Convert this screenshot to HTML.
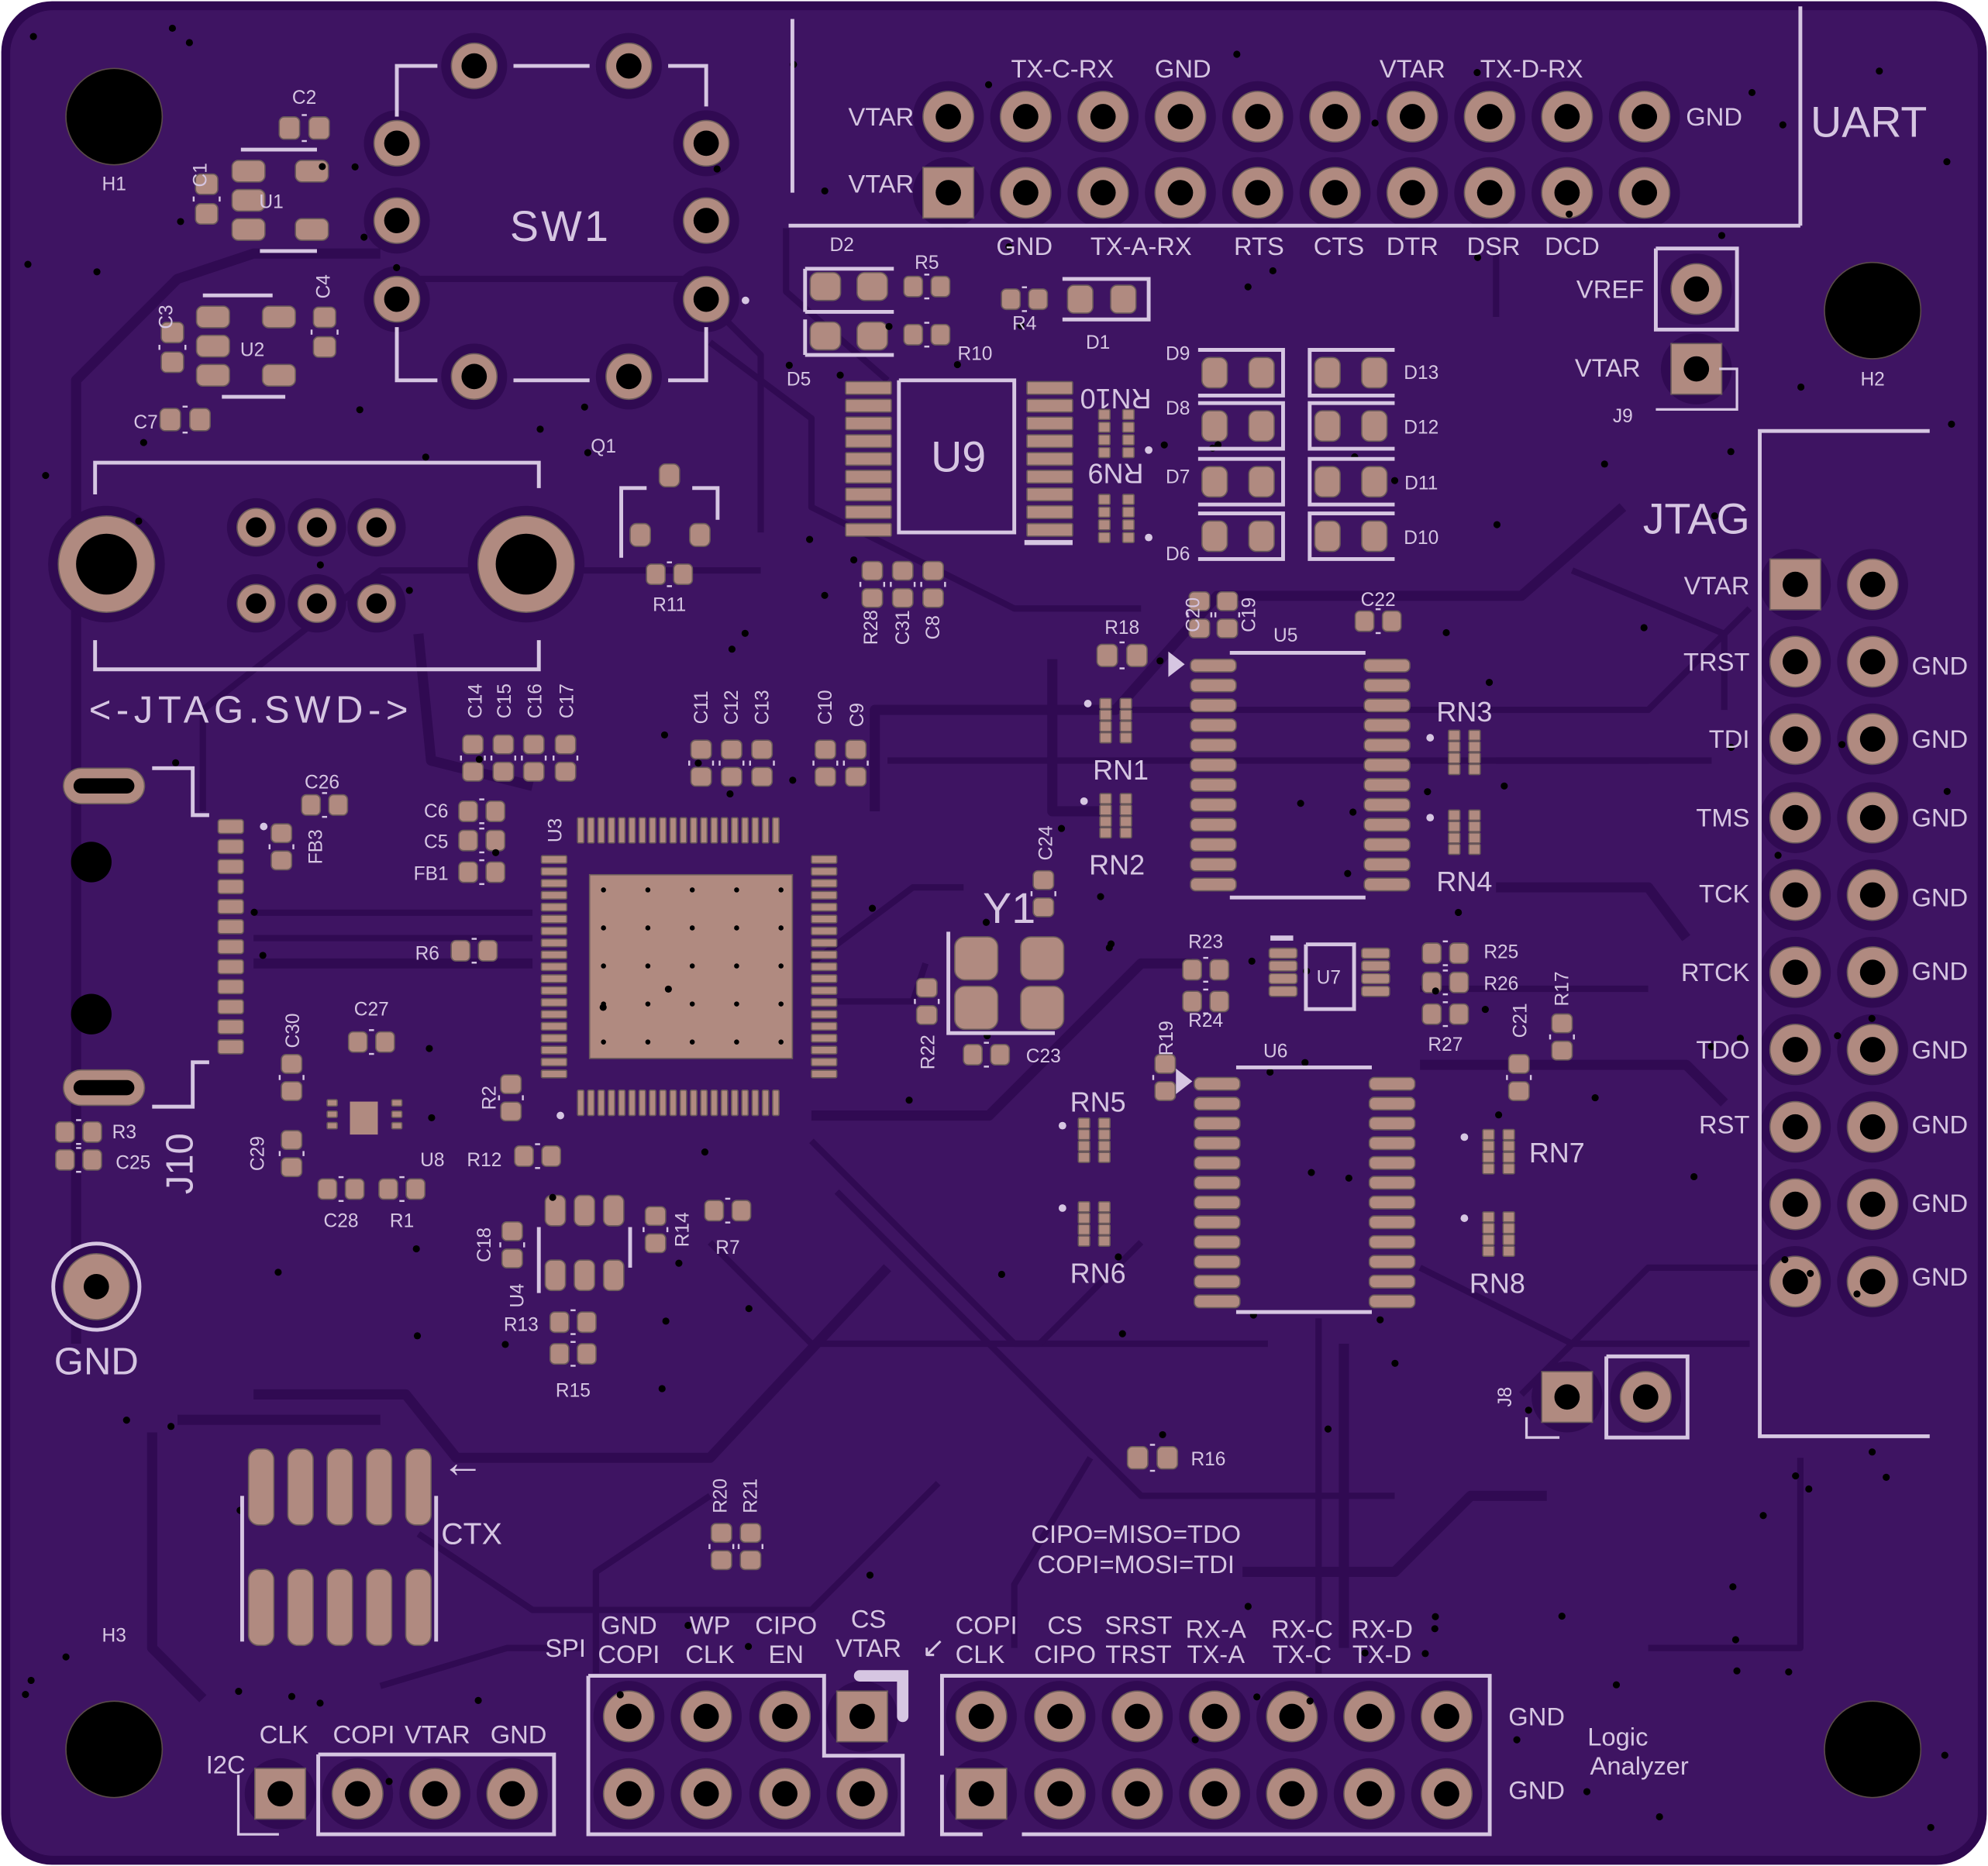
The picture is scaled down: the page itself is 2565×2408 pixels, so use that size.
<!DOCTYPE html>
<html><head><meta charset="utf-8"><style>
html,body{margin:0;padding:0;background:#fff;}
svg{display:block;}
text{font-family:"Liberation Sans",sans-serif;fill:#d6c6e2;}
</style></head><body>
<svg id="s" width="2565" height="2408" viewBox="0 0 1568 1472" xmlns="http://www.w3.org/2000/svg">
<rect x="0" y="0" width="1568" height="1472" fill="#ffffff"/>
<rect x="1" y="1" width="1566" height="1470" rx="40" fill="#2e0850"/>
<rect x="8" y="8" width="1552" height="1456" rx="34" fill="#3e1462"/>
<g id="traces" fill="none" stroke="#300a52" stroke-width="6" stroke-linejoin="round"></g>
<g id="pads"></g>
<g id="silk" fill="none" stroke="#d6c6e2" stroke-width="3"></g>
<g id="txt">
<g font-size="15">
<text x="90" y="150" text-anchor="middle">H1</text>
<text x="1477" y="304" text-anchor="middle">H2</text>
<text x="90" y="1295" text-anchor="middle">H3</text>
<text x="240" y="82" text-anchor="middle">C2</text>
<text x="214" y="164" text-anchor="middle">U1</text>
<text x="199" y="281" text-anchor="middle">U2</text>
<text x="115" y="338" text-anchor="middle">C7</text>
<text x="476" y="357" text-anchor="middle">Q1</text>
<text x="528" y="482" text-anchor="middle">R11</text>
<text x="664" y="198" text-anchor="middle">D2</text>
<text x="731" y="212" text-anchor="middle">R5</text>
<text x="769" y="284" text-anchor="middle">R10</text>
<text x="808" y="260" text-anchor="middle">R4</text>
<text x="866" y="275" text-anchor="middle">D1</text>
<text x="630" y="304" text-anchor="middle">D5</text>
<text x="929" y="284" text-anchor="middle">D9</text>
<text x="929" y="327" text-anchor="middle">D8</text>
<text x="929" y="381" text-anchor="middle">D7</text>
<text x="929" y="442" text-anchor="middle">D6</text>
<text x="1121" y="299" text-anchor="middle">D13</text>
<text x="1121" y="342" text-anchor="middle">D12</text>
<text x="1121" y="386" text-anchor="middle">D11</text>
<text x="1121" y="429" text-anchor="middle">D10</text>
<text x="885" y="500" text-anchor="middle">R18</text>
<text x="1014" y="506" text-anchor="middle">U5</text>
<text x="1087" y="478" text-anchor="middle">C22</text>
<text x="254" y="622" text-anchor="middle">C26</text>
<text x="344" y="645" text-anchor="middle">C6</text>
<text x="344" y="669" text-anchor="middle">C5</text>
<text x="340" y="694" text-anchor="middle">FB1</text>
<text x="337" y="757" text-anchor="middle">R6</text>
<text x="293" y="801" text-anchor="middle">C27</text>
<text x="98" y="898" text-anchor="middle">R3</text>
<text x="105" y="922" text-anchor="middle">C25</text>
<text x="341" y="920" text-anchor="middle">U8</text>
<text x="382" y="920" text-anchor="middle">R12</text>
<text x="269" y="968" text-anchor="middle">C28</text>
<text x="317" y="968" text-anchor="middle">R1</text>
<text x="574" y="989" text-anchor="middle">R7</text>
<text x="411" y="1050" text-anchor="middle">R13</text>
<text x="452" y="1102" text-anchor="middle">R15</text>
<text x="951" y="748" text-anchor="middle">R23</text>
<text x="951" y="810" text-anchor="middle">R24</text>
<text x="1184" y="756" text-anchor="middle">R25</text>
<text x="1184" y="781" text-anchor="middle">R26</text>
<text x="1140" y="829" text-anchor="middle">R27</text>
<text x="1048" y="776" text-anchor="middle">U7</text>
<text x="1006" y="834" text-anchor="middle">U6</text>
<text x="823" y="838" text-anchor="middle">C23</text>
<text x="953" y="1156" text-anchor="middle">R16</text>
<text transform="translate(163,138) rotate(-90)" text-anchor="middle">C1</text>
<text transform="translate(136,250) rotate(-90)" text-anchor="middle">C3</text>
<text transform="translate(260,226) rotate(-90)" text-anchor="middle">C4</text>
<text transform="translate(692,495) rotate(-90)" text-anchor="middle">R28</text>
<text transform="translate(717,495) rotate(-90)" text-anchor="middle">C31</text>
<text transform="translate(741,495) rotate(-90)" text-anchor="middle">C8</text>
<text transform="translate(946,485) rotate(-90)" text-anchor="middle">C20</text>
<text transform="translate(990,485) rotate(-90)" text-anchor="middle">C19</text>
<text transform="translate(380,553) rotate(-90)" text-anchor="middle">C14</text>
<text transform="translate(403,553) rotate(-90)" text-anchor="middle">C15</text>
<text transform="translate(427,553) rotate(-90)" text-anchor="middle">C16</text>
<text transform="translate(452,553) rotate(-90)" text-anchor="middle">C17</text>
<text transform="translate(558,558) rotate(-90)" text-anchor="middle">C11</text>
<text transform="translate(582,558) rotate(-90)" text-anchor="middle">C12</text>
<text transform="translate(606,558) rotate(-90)" text-anchor="middle">C13</text>
<text transform="translate(656,558) rotate(-90)" text-anchor="middle">C10</text>
<text transform="translate(681,564) rotate(-90)" text-anchor="middle">C9</text>
<text transform="translate(254,668) rotate(-90)" text-anchor="middle">FB3</text>
<text transform="translate(443,655) rotate(-90)" text-anchor="middle">U3</text>
<text transform="translate(830,665) rotate(-90)" text-anchor="middle">C24</text>
<text transform="translate(236,813) rotate(-90)" text-anchor="middle">C30</text>
<text transform="translate(208,910) rotate(-90)" text-anchor="middle">C29</text>
<text transform="translate(391,866) rotate(-90)" text-anchor="middle">R2</text>
<text transform="translate(737,830) rotate(-90)" text-anchor="middle">R22</text>
<text transform="translate(925,819) rotate(-90)" text-anchor="middle">R19</text>
<text transform="translate(1204,805) rotate(-90)" text-anchor="middle">C21</text>
<text transform="translate(1237,780) rotate(-90)" text-anchor="middle">R17</text>
<text transform="translate(387,982) rotate(-90)" text-anchor="middle">C18</text>
<text transform="translate(543,970) rotate(-90)" text-anchor="middle">R14</text>
<text transform="translate(413,1022) rotate(-90)" text-anchor="middle">U4</text>
<text transform="translate(573,1180) rotate(-90)" text-anchor="middle">R20</text>
<text transform="translate(597,1180) rotate(-90)" text-anchor="middle">R21</text>
<text transform="translate(1192,1102) rotate(-90)" text-anchor="middle">J8</text>
<text x="1280" y="333" text-anchor="middle">J9</text>
<text transform="translate(880,307) rotate(180)" text-anchor="middle" font-size="22">RN10</text>
<text transform="translate(880,366) rotate(180)" text-anchor="middle" font-size="22">RN9</text>
</g>
<g font-size="22">
<text x="884" y="615" text-anchor="middle">RN1</text>
<text x="881" y="690" text-anchor="middle">RN2</text>
<text x="1155" y="569" text-anchor="middle">RN3</text>
<text x="1155" y="703" text-anchor="middle">RN4</text>
<text x="866" y="877" text-anchor="middle">RN5</text>
<text x="866" y="1012" text-anchor="middle">RN6</text>
<text x="1228" y="917" text-anchor="middle">RN7</text>
<text x="1181" y="1020" text-anchor="middle">RN8</text>
</g>
<g font-size="20">
<text x="695" y="99" text-anchor="middle">VTAR</text>
<text x="695" y="152" text-anchor="middle">VTAR</text>
<text x="838" y="61" text-anchor="middle">TX-C-RX</text>
<text x="933" y="61" text-anchor="middle">GND</text>
<text x="1114" y="61" text-anchor="middle">VTAR</text>
<text x="1208" y="61" text-anchor="middle">TX-D-RX</text>
<text x="1352" y="99" text-anchor="middle">GND</text>
<text x="808" y="201" text-anchor="middle">GND</text>
<text x="900" y="201" text-anchor="middle">TX-A-RX</text>
<text x="993" y="201" text-anchor="middle">RTS</text>
<text x="1056" y="201" text-anchor="middle">CTS</text>
<text x="1114" y="201" text-anchor="middle">DTR</text>
<text x="1178" y="201" text-anchor="middle">DSR</text>
<text x="1240" y="201" text-anchor="middle">DCD</text>
<text x="1270" y="235" text-anchor="middle">VREF</text>
<text x="1268" y="297" text-anchor="middle">VTAR</text>
<g text-anchor="end">
<text x="1380" y="469">VTAR</text><text x="1380" y="529">TRST</text><text x="1380" y="590">TDI</text>
<text x="1380" y="652">TMS</text><text x="1380" y="712">TCK</text><text x="1380" y="774">RTCK</text>
<text x="1380" y="835">TDO</text><text x="1380" y="894">RST</text>
</g>
<g text-anchor="middle">
<text x="1530" y="532">GND</text><text x="1530" y="590">GND</text><text x="1530" y="652">GND</text>
<text x="1530" y="715">GND</text><text x="1530" y="773">GND</text><text x="1530" y="835">GND</text>
<text x="1530" y="894">GND</text><text x="1530" y="956">GND</text><text x="1530" y="1014">GND</text>
</g>
<text x="896" y="1217" text-anchor="middle">CIPO=MISO=TDO</text>
<text x="896" y="1241" text-anchor="middle">COPI=MOSI=TDI</text>
<g text-anchor="middle">
<text x="496" y="1289">GND</text><text x="496" y="1312">COPI</text>
<text x="560" y="1289">WP</text><text x="560" y="1312">CLK</text>
<text x="620" y="1289">CIPO</text><text x="620" y="1312">EN</text>
<text x="685" y="1284">CS</text><text x="685" y="1307">VTAR</text>
<text x="446" y="1307">SPI</text>
<text x="778" y="1289">COPI</text><text x="773" y="1312">CLK</text>
<text x="840" y="1289">CS</text><text x="840" y="1312">CIPO</text>
<text x="898" y="1289">SRST</text><text x="898" y="1312">TRST</text>
<text x="959" y="1292">RX-A</text><text x="959" y="1312">TX-A</text>
<text x="1027" y="1292">RX-C</text><text x="1027" y="1312">TX-C</text>
<text x="1090" y="1292">RX-D</text><text x="1090" y="1312">TX-D</text>
<text x="1212" y="1361">GND</text><text x="1212" y="1419">GND</text>
<text x="1276" y="1377">Logic</text><text x="1293" y="1400">Analyzer</text>
<text x="224" y="1375">CLK</text><text x="287" y="1375">COPI</text>
<text x="345" y="1375">VTAR</text><text x="409" y="1375">GND</text>
<text x="178" y="1399">I2C</text>
</g>
<text x="348" y="1218" font-size="24">CTX</text>
<text x="348" y="1165" font-size="34">←</text>
<text x="727" y="1307" font-size="22">↙</text>
</g>
<g font-size="34">
<text x="442" y="190" text-anchor="middle" letter-spacing="2">SW1</text>
<text x="1474" y="108" text-anchor="middle">UART</text>
<text x="1338" y="421" text-anchor="middle">JTAG</text>
<text x="198" y="570" text-anchor="middle" font-size="30" letter-spacing="4">&lt;-JTAG.SWD-&gt;</text>
<text x="756" y="372" text-anchor="middle">U9</text>
<text x="796" y="728" text-anchor="middle">Y1</text>
<text x="76" y="1084" text-anchor="middle" font-size="30">GND</text>
<text transform="translate(152,918) rotate(-90)" text-anchor="middle" font-size="30">J10</text>
</g>
</g>
</svg>
<script>
var NS="http://www.w3.org/2000/svg";
function el(p,t,a){var e=document.createElementNS(NS,t);for(var k in a)e.setAttribute(k,a[k]);document.getElementById(p).appendChild(e);return e;}
var PAD="#b08a80",ED="#6a5a5a";
function th(x,y,sq,r,h){r=r||20;h=h||10;
 el("traces","circle",{cx:x,cy:y,r:r+8,fill:"#300a52",stroke:"none"});
 if(sq)el("pads","rect",{x:x-r,y:y-r,width:2*r,height:2*r,fill:PAD,stroke:ED,"stroke-width":1});
 else el("pads","circle",{cx:x,cy:y,r:r,fill:PAD,stroke:ED,"stroke-width":1});
 el("pads","circle",{cx:x,cy:y,r:h,fill:"#000"});}
function smd(x,y,w,h,rr){el("pads","rect",{x:x-w/2,y:y-h/2,width:w,height:h,rx:rr==null?Math.min(w,h)*0.25:rr,fill:PAD,stroke:ED,"stroke-width":1});}
function cap(x,y,v,s){s=(s||1)*1.22;if(v){smd(x,y-8*s,12*s,11*s);smd(x,y+8*s,12*s,11*s);ln((x-7*s)+","+(y-2)+" "+(x-7*s)+","+(y+2),1.5);ln((x+7*s)+","+(y-2)+" "+(x+7*s)+","+(y+2),1.5);}else{smd(x-8*s,y,11*s,12*s);smd(x+8*s,y,11*s,12*s);ln((x-2)+","+(y-7*s)+" "+(x+2)+","+(y-7*s),1.5);ln((x-2)+","+(y+7*s)+" "+(x+2)+","+(y+7*s),1.5);}}
function ln(pts,w){el("silk","polyline",{points:pts,"stroke-width":w||3});}
function tr(pts,w){el("traces","polyline",{points:pts,"stroke-width":w||5});}
function hole(x,y){el("pads","circle",{cx:x,cy:y,r:38,fill:"#000",stroke:"#5a4a4a","stroke-width":1});}
var T=["60,1060 60,300 140,220 200,200 300,200","160,640 160,560 300,450 600,450","330,220 540,220 600,280 600,420",
"690,640 690,560 880,560 960,470 1200,470 1280,400","700,600 1350,600","720,560 1300,560 1380,480","640,880 780,880 900,760 940,760",
"640,900 800,1060 1000,1060","660,940 900,1180 1100,1180","200,1100 320,1100 360,1150 560,1150 700,1000","330,1210 420,1270 640,1270 740,1170",
"470,1320 470,1240 560,1180","1060,1060 1060,1300","1040,1040 1040,1320","1200,1100 1300,1000 1400,1000","1180,700 1300,700 1330,740",
"1180,600 1300,600","1120,780 1300,780","1120,840 1330,840 1360,870","700,300 620,230 620,180","560,270 640,330 640,400 800,480 900,480",
"330,500 340,600 420,620","200,720 420,720","200,740 420,740","200,760 420,760","640,760 720,700 760,700","640,790 720,790 730,760",
"830,520 830,640 870,640","1240,450 1360,500 1360,560","1180,250 1180,200","120,1130 120,1300 160,1340","300,1330 400,1300 460,1300",
"860,1150 800,1250 800,1300","980,1240 1100,1240 1160,1180 1220,1180","1120,1000 1240,1060 1380,1060","1420,1150 1420,1300 1300,1300",
"140,1120 300,1120","560,980 640,1060 820,1060 900,980"];
T.forEach(function(p,i){tr(p,i%3==0?8:5);});
hole(90,92);hole(1477,245);hole(90,1380);hole(1477,1380);
var ux=[748,809,870,931,992,1053,1114,1175,1236,1297];
ux.forEach(function(x,i){th(x,92);th(x,152,i==0);});
ln("625,15 625,152");ln("622,178 1420,178");ln("1420,5 1420,178");
var jy=[461,522,583,645,706,767,828,889,950,1011];
jy.forEach(function(y,i){th(1416,y,i==0);th(1477,y);});
ln("1522,340 1388,340 1388,1133 1522,1133");
th(1338,228);ln("1306,196 1370,196 1370,260 1306,260 1306,196");th(1338,291,true);ln("1356,291 1370,291 1370,323 1306,323",2);
th(1236,1102,true);th(1298,1102);ln("1267,1070 1331,1070 1331,1134 1267,1134 1267,1070");ln("1204,1118 1204,1134 1230,1134",2);
var lx=[774,836,897,958,1019,1080,1141];
lx.forEach(function(x,i){th(x,1354);th(x,1415,i==0);});
ln("806,1447 1175,1447 1175,1322 743,1322 743,1385");ln("743,1400 743,1447 775,1447");
[496,557,619,680].forEach(function(x,i){th(x,1354,i==3);th(x,1415);});
ln("464,1322 650,1322 650,1385 712,1385 712,1447 464,1447 464,1322");
el("silk","path",{d:"M678,1322 L712,1322 L712,1354",fill:"none","stroke-width":9,"stroke-linecap":"round"});
th(221,1415,true);th(282,1415);th(343,1415);th(404,1415);
ln("251,1384 437,1384 437,1447 251,1447 251,1384");ln("188,1400 188,1447 220,1447",2);
[[374,52],[496,52],[313,113],[557,113],[313,174],[557,174],[313,236],[557,236],[374,297],[496,297]].forEach(function(p){th(p[0],p[1],false,18,10);});
ln("313,92 313,52 345,52");ln("405,52 465,52");ln("527,52 557,52 557,84");ln("313,258 313,300 345,300");ln("405,300 465,300");ln("527,300 557,300 557,258");
el("silk","circle",{cx:588,cy:237,r:3,fill:"#d6c6e2",stroke:"none"});
th(84,445,false,38,24);th(415,445,false,38,24);
[202,250,297].forEach(function(x){th(x,416,false,15,8);th(x,476,false,15,8);});
ln("75,390 75,365 425,365 425,385");ln("75,505 75,528 425,528 425,505");
[[82,620],[82,858]].forEach(function(p){el("pads","rect",{x:p[0]-32,y:p[1]-14,width:64,height:28,rx:14,fill:PAD,stroke:ED});el("pads","rect",{x:p[0]-24,y:p[1]-6,width:48,height:12,rx:6,fill:"#000"});});
el("pads","circle",{cx:72,cy:680,r:16,fill:"#000"});el("pads","circle",{cx:72,cy:800,r:16,fill:"#000"});
for(var i=0;i<12;i++)smd(182,652+i*15.8,20,11,2);
ln("120,606 152,606 152,643 165,643");ln("120,873 152,873 152,838 165,838");
el("silk","circle",{cx:76,cy:1015,r:34,fill:"none"});th(76,1015,false,26,10);
smd(196,135,26,17,5);smd(196,158,26,17,5);smd(196,181,26,17,5);smd(246,135,26,17,5);smd(246,181,26,17,5);
ln("190,118 250,118");ln("205,198 250,198");cap(163,157,true,1.2);cap(240,101,false,1.2);
smd(168,250,26,17,5);smd(168,273,26,17,5);smd(168,296,26,17,5);smd(220,250,26,17,5);smd(220,296,26,17,5);
ln("160,233 215,233");ln("175,313 225,313");cap(136,274,true,1.2);cap(256,262,true,1.2);cap(146,331,false,1.2);
smd(528,375,16,18,5);smd(505,422,16,18,5);smd(552,422,16,18,5);cap(528,453,false,1.1);
ln("490,440 490,385 510,385");ln("546,385 566,385 566,410");
smd(651,226,24,22,6);smd(688,226,24,22,6);smd(651,265,24,22,6);smd(688,265,24,22,6);
ln("635,212 705,212");ln("635,246 705,246");ln("635,280 705,280");ln("635,212 635,246");ln("635,252 635,280");
cap(731,226,false,1.1);cap(731,264,false,1.1);cap(808,236,false,1.1);
smd(852,236,20,22,5);smd(886,236,20,22,5);ln("838,220 906,220 906,252 838,252");
for(var i=0;i<9;i++){smd(685,306+i*14,36,10,1);smd(828,306+i*14,36,10,1);}
ln("709,300 800,300 800,420 709,420 709,300");ln("808,428 846,428",4);
for(var i=0;i<4;i++){smd(871,327+i*10,9,8,1);smd(890,327+i*10,9,8,1);smd(871,394+i*10,9,8,1);smd(890,394+i*10,9,8,1);}
[294,336,380,423].forEach(function(y){smd(958,y,20,24,6);smd(995,y,20,24,6);smd(1047,y,20,24,6);smd(1084,y,20,24,6);
 ln("945,"+(y-18)+" 1012,"+(y-18)+" 1012,"+(y+18)+" 945,"+(y+18));ln("1100,"+(y-18)+" 1033,"+(y-18)+" 1033,"+(y+18)+" 1100,"+(y+18));});
[688,712,736].forEach(function(x){cap(x,461,true,1.1);});
for(var i=0;i<12;i++){smd(957,525+i*15.7,36,10,4);smd(1094,525+i*15.7,36,10,4);smd(960,855+i*15.6,36,10,4);smd(1098,855+i*15.6,36,10,4);}
ln("970,515 1077,515");ln("970,708 1077,708");ln("975,842 1082,842");ln("975,1035 1082,1035");
el("silk","polygon",{points:"923,517 932,524 923,531",fill:"#d6c6e2"});el("silk","polygon",{points:"929,846 938,853 929,860",fill:"#d6c6e2"});
cap(885,517,false,1.2);cap(946,485,true,1.1);cap(968,485,true,1.1);cap(1087,490,false,1.1);
function rn(x,y){for(var i=0;i<4;i++){smd(x,y+i*9,9,8,1);smd(x+16,y+i*9,9,8,1);}}
rn(872,555);rn(872,630);rn(1147,580);rn(1147,643);rn(855,886);rn(855,952);rn(1174,895);rn(1174,960);
for(var i=0;i<20;i++){smd(458+i*8.1,655,5,20,1);smd(458+i*8.1,870,5,20,1);}
for(var i=0;i<19;i++){smd(437,678+i*9.4,20,6,1);smd(650,678+i*9.4,20,6,1);}
el("pads","rect",{x:465,y:690,width:160,height:145,fill:PAD,stroke:ED});
for(var a=0;a<5;a++)for(var b=0;b<5;b++)el("pads","circle",{cx:476+a*35,cy:702+b*30,r:2,fill:"#000"});
el("silk","circle",{cx:442,cy:880,r:3,fill:"#d6c6e2",stroke:"none"});
[373,397,421,446].forEach(function(x){cap(x,598,true,1.1);});
[553,577,601,651,675].forEach(function(x){cap(x,602,true,1.1);});
cap(256,635,false,1.1);cap(222,668,true,1.1);cap(380,640,false,1.1);cap(380,663,false,1.1);cap(380,688,false,1.1);cap(374,750,false,1.1);
cap(823,705,true,1.1);
smd(770,756,34,34,8);smd(822,756,34,34,8);smd(770,795,34,34,8);smd(822,795,34,34,8);ln("748,735 748,815 832,815");
cap(731,790,true,1.1);cap(778,832,false,1.1);
for(var i=0;i<4;i++){smd(1012,752+i*10,22,8,2);smd(1085,752+i*10,22,8,2);}
ln("1030,745 1068,745 1068,796 1030,796 1030,745");ln("1002,740 1020,740",4);
cap(951,765,false,1.1);cap(951,790,false,1.1);cap(1140,752,false,1.1);cap(1140,775,false,1.1);cap(1140,800,false,1.1);
cap(1232,818,true,1.1);cap(1198,850,true,1.1);cap(919,850,true,1.1);
el("pads","rect",{x:276,y:869,width:22,height:26,fill:PAD});for(var i=0;i<3;i++){smd(262,870+i*9,8,5,1);smd(313,870+i*9,8,5,1);}
cap(293,822,false,1.1);cap(230,850,true,1.1);cap(230,910,true,1.1);cap(269,938,false,1.1);cap(317,938,false,1.1);
cap(62,893,false,1.1);cap(62,915,false,1.1);cap(403,866,true,1.1);cap(424,912,false,1.1);
[438,461,484].forEach(function(x){smd(x,955,16,24,5);smd(x,1006,16,24,5);});ln("425,968 425,1020");ln("497,968 497,1000");
cap(404,982,true,1.1);cap(517,970,true,1.1);cap(574,955,false,1.1);cap(452,1043,false,1.1);cap(452,1068,false,1.1);
cap(909,1150,false,1.2);cap(569,1220,true,1.1);cap(592,1220,true,1.1);
[206,237,268,299,330].forEach(function(x){smd(x,1173,20,60,8);smd(x,1268,20,60,8);});
ln("191,1180 191,1295");ln("344,1180 344,1295");
[[208,652],[858,555],[855,632],[1128,582],[1128,645],[906,355],[906,424],[838,888],[838,953],[1155,897],[1155,961]].forEach(function(p){el("silk","circle",{cx:p[0],cy:p[1],r:3,fill:"#d6c6e2",stroke:"none"});});
var seed=7;function rnd(){seed=(seed*16807)%2147483647;return seed/2147483647;}
for(var i=0;i<170;i++){var x=20+rnd()*1525,y=20+rnd()*1430;el("pads","circle",{cx:x,cy:y,r:2.8,fill:"#000"});}
</script>
</body></html>
